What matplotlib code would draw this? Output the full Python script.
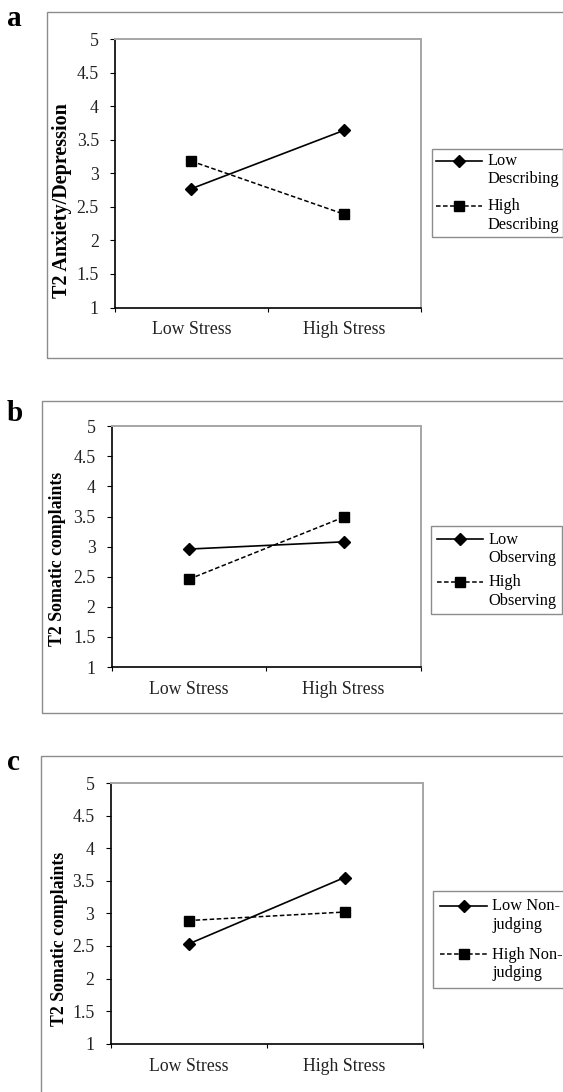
import numpy as np
import matplotlib
matplotlib.use('Agg')
import matplotlib.pyplot as plt
from matplotlib.lines import Line2D
from matplotlib.patches import Rectangle
from matplotlib.legend_handler import HandlerLine2D

#------------------------------------- datos -------------------------------------
categorias = ['Low Stress', 'High Stress']
yticks = [1, 1.5, 2, 2.5, 3, 3.5, 4, 4.5, 5]

# panel a
bajo_a = [2.77, 3.64]
alto_a = [3.18, 2.39]
leyenda_a = ['Low\nDescribing', 'High\nDescribing']
ylabel_a = 'T2 Anxiety/Depression'

# panel b
bajo_b = [2.96, 3.08]
alto_b = [2.46, 3.49]
leyenda_b = ['Low\nObserving', 'High\nObserving']
ylabel_b = 'T2 Somatic complaints'

# panel c
bajo_c = [2.53, 3.55]
alto_c = [2.89, 3.02]
leyenda_c = ['Low Non-\njudging', 'High Non-\njudging']
ylabel_c = 'T2 Somatic complaints'

letras = ['a', 'b', 'c']

plt.rcParams['font.family'] = ['Liberation Serif', 'DejaVu Serif']

W, H = 563, 1092
fig = plt.figure(figsize=(W / 100, H / 100), dpi=100)


def px(l, t, r, b):
    # caja en pixeles -> coordenadas de figura
    return [l / W, 1 - b / H, (r - l) / W, (b - t) / H]


class HandlerArriba(HandlerLine2D):
    # pone la linea de la leyenda a la altura de la primera linea del texto
    def create_artists(self, legend, orig_handle, xdescent, ydescent,
                       width, height, fontsize, trans):
        arts = super().create_artists(legend, orig_handle, xdescent, ydescent,
                                      width, height, fontsize, trans)
        for a in arts:
            a.set_ydata(np.asarray(a.get_ydata()) + 0.6 * fontsize)
        return arts


# posiciones de cada panel (pixeles)
ejes = [(115, 39, 420.5, 307.5), (111.7, 426.3, 421, 667), (110.6, 783, 422.5, 1043.7)]
marcos = [(46.5, 11.5, 358.3), (42.4, 401.3, 712.7), (41.3, 756, 1110)]
leyendas = [(431.5, 149), (431, 526), (433, 891)]
pos_letras = [(7, 26), (7, 421), (7, 770)]
ylabel_x = [72.5, 66.5, 68.5]
ylabel_y = [0.397, 0.449, 0.402]
ylabel_size = [14.5, 12.8, 12.8]
espaciado = [0.65, 0.5, 0.85]
relleno = [0.25, 0.35, 0.45]

datos = [(bajo_a, alto_a, leyenda_a, ylabel_a),
         (bajo_b, alto_b, leyenda_b, ylabel_b),
         (bajo_c, alto_c, leyenda_c, ylabel_c)]

x = np.array([0.5, 1.5])

for i, (bajo, alto, ley, ylab) in enumerate(datos):
    # marco gris del grafico
    l, t, b = marcos[i]
    fig.patches.append(Rectangle((l / W, 1 - b / H), (W + 50 - l) / W, (b - t) / H,
                                 transform=fig.transFigure, fill=False,
                                 edgecolor='#8c8c8c', linewidth=1.0, clip_on=False))

    ax = fig.add_axes(px(*ejes[i]))
    l1, = ax.plot(x, bajo, color='black', linewidth=1.2, marker='D',
                  markersize=6, label=ley[0])
    l2, = ax.plot(x, alto, color='black', linewidth=1.1, linestyle=(0, (3, 1.6)),
                  marker='s', markersize=7.2, label=ley[1])

    ax.set_xlim(0, 2)
    ax.set_ylim(1, 5)
    ax.set_yticks(yticks)
    ax.set_yticklabels([f'{v:g}' for v in yticks], fontsize=12.8, color='#222222')
    ax.tick_params(axis='y', direction='out', length=3.6, width=0.8, pad=8)

    ax.set_xticks([0, 1, 2])
    ax.set_xticklabels([])
    ax.set_xticks(x, minor=True)
    ax.set_xticklabels(categorias, minor=True, fontsize=12.8, color='#222222')
    ax.tick_params(axis='x', which='major', direction='out', length=3, width=0.8)
    ax.tick_params(axis='x', which='minor', length=0, pad=10)

    for s in ['left', 'bottom']:
        ax.spines[s].set_color('black')
        ax.spines[s].set_linewidth(1.2)
    for s in ['top', 'right']:
        ax.spines[s].set_color('#a6a6a6')
        ax.spines[s].set_linewidth(1.4)

    ax.set_ylabel(ylab, fontsize=ylabel_size[i], fontweight='bold')
    izq = ejes[i][0]
    ancho = ejes[i][2] - ejes[i][0]
    ax.yaxis.set_label_coords((ylabel_x[i] - izq) / ancho, ylabel_y[i])

    lx, ly = leyendas[i]
    leg = ax.legend(handles=[l1, l2], labels=ley, loc='upper left',
                    bbox_to_anchor=(lx / W, 1 - ly / H), bbox_transform=fig.transFigure,
                    borderaxespad=0, fontsize=11.8, handlelength=2.85, handletextpad=0.3,
                    borderpad=relleno[i], labelspacing=espaciado[i], numpoints=1,
                    fancybox=False, framealpha=1, edgecolor='#8c8c8c',
                    handler_map={Line2D: HandlerArriba()})
    leg.get_frame().set_linewidth(1.0)

    # letra del panel
    fig.text(pos_letras[i][0] / W, 1 - pos_letras[i][1] / H, letras[i],
             fontsize=21, fontweight='bold', ha='left', va='baseline')

fig.savefig('out.png', dpi=100)
